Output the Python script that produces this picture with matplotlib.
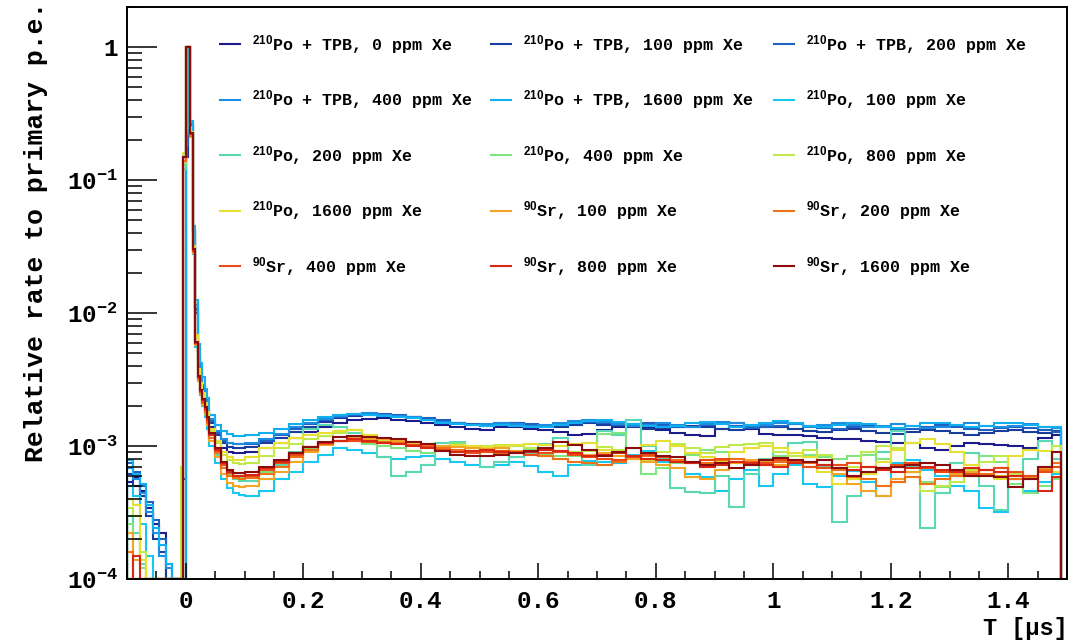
import numpy as np
import matplotlib
matplotlib.use("Agg")
import matplotlib.pyplot as plt
from matplotlib.lines import Line2D
from matplotlib.ticker import (FixedLocator, FixedFormatter, MultipleLocator,
                               LogLocator, NullFormatter, FuncFormatter)

plt.rcParams['font.family'] = ['Liberation Mono', 'DejaVu Sans']
plt.rcParams['font.weight'] = 'bold'
plt.rcParams['mathtext.fontset'] = 'custom'
plt.rcParams['mathtext.rm'] = 'Liberation Mono:bold'
plt.rcParams['mathtext.it'] = 'Liberation Mono:bold'
plt.rcParams['mathtext.bf'] = 'Liberation Mono:bold'
plt.rcParams['mathtext.sf'] = 'Liberation Sans'

# bin edges in us: pre-trigger, fine bins round the peak, then the tail
edges = np.concatenate([np.linspace(-0.1, -0.012, 9)[:-1],
                        np.linspace(-0.012, 0.04, 14)[:-1],
                        np.linspace(0.04, 0.1, 7)[:-1],
                        np.linspace(0.1, 1.475, 56), [1.49]])

# rates in units of 1e-4 (relative to primary p.e.)
tpb_0 = [5.4, 5.8, 4.6, 3.4, 2.6, 2.2, 0, 0,
         0, 0, 5.6, 1500, 10000, 2600, 400, 100, 45, 32, 25, 20, 17,
         14, 11, 9.6, 9.0, 8.9, 8.9,
         9.0, 9.6, 10.5, 11.5, 12.8, 14, 15, 15.8, 16, 16.2,
         15.8, 15.5, 15, 14.5, 14, 13.4, 13.3, 13.8, 14, 13.5,
         13.2, 12.8, 12.2, 12.3, 13.2, 14, 14.4, 14, 13.2, 12.5,
         12, 11.9, 13.5, 14.8, 13.5, 12.4, 12, 12.2, 11.8, 11.4,
         11.2, 11.3, 11, 10.8, 10.6, 10.5, 9.6, 9.4, 10, 10.6,
         10.4, 10.2, 10, 9.7, 11.5, 12]
tpb_100 = [6.2, 5.0, 4.2, 3.0, 2.0, 1.6, 0, 0,
           0, 0, 0, 1500, 10000, 2600, 410, 105, 48, 34, 27, 22, 18.5,
           15, 12, 10.5, 9.9, 9.7, 9.7,
           9.8, 10.5, 11.5, 12.8, 14, 15.2, 16.2, 16.8, 17, 17.2,
           16.8, 16.5, 16, 15.4, 14.8, 14.5, 14.2, 14.5, 14.8, 14.4,
           14.2, 14, 14.3, 14.8, 14.5, 14.2, 13.8, 13.5, 13.6, 14,
           14.2, 13.8, 13.5, 13.2, 13.6, 14, 13.8, 13.4, 13, 12.8,
           13.2, 13.4, 13.0, 12.6, 12.4, 12.8, 13.2, 13, 12.5, 12.2,
           12.6, 13, 13.3, 12.8, 12.6, 13]
tpb_200 = [7.4, 6.4, 5.0, 3.8, 2.8, 2.0, 1.3, 0,
           0, 0, 0, 1800, 10000, 2700, 420, 110, 50, 35, 28, 23, 19.5,
           15.5, 12.5, 11, 10.5, 10.3, 10.3,
           10.4, 11, 12, 13.4, 14.6, 15.8, 16.6, 17.2, 17.4, 17.3,
           17, 16.6, 16.2, 15.6, 15, 14.7, 14.5, 14.8, 15, 14.6,
           14.2, 14.5, 15, 15.2, 14.8, 14.4, 14.6, 15, 14.4, 13.8,
           14, 14.5, 14.8, 14.2, 13.6, 13.8, 14.2, 14.6, 14.2, 13.6,
           13.4, 13.8, 14.2, 13.8, 13.2, 13.5, 14, 14.4, 13.8, 13.4,
           13.2, 13.6, 14, 13.6, 13.2, 12.8]
tpb_400 = [6.8, 5.6, 4.4, 3.2, 2.2, 1.5, 1.2, 0,
           0, 0, 0, 2200, 10000, 2700, 430, 115, 52, 37, 29, 24, 20,
           16, 13, 11.2, 10.6, 10.3, 10.4,
           10.6, 11.3, 12.4, 13.8, 15, 16, 16.8, 17.4, 17.6, 17.2,
           16.8, 16.4, 15.8, 15.2, 14.8, 14.4, 14.6, 15, 14.6, 14.2,
           14.4, 14.8, 15.3, 15.6, 15.2, 14.6, 14.2, 14.5, 14.9, 14.4,
           14, 14.6, 15.2, 14.8, 14.2, 14.5, 15, 14.6, 14, 14.3,
           14.8, 14.3, 13.8, 14.2, 14.6, 14.2, 13.6, 14, 14.5, 14.8,
           14.2, 13.8, 14.2, 14.6, 14, 13.6]
tpb_1600 = [7.8, 6.2, 5.2, 3.6, 2.4, 1.8, 1.3, 0,
            0, 0, 0, 2400, 10000, 2800, 450, 125, 58, 42, 33, 27, 23,
            17, 14.5, 13, 12.3, 11.9, 11.9,
            12, 12.6, 13.5, 14.6, 15.6, 16.5, 17, 17.4, 17.2, 16.8,
            16.6, 16.2, 15.6, 15, 14.6, 14.4, 14.2, 14.5, 14.2, 13.8,
            14, 14.4, 14.8, 15.4, 15.8, 15.2, 14.6, 14.2, 13.8, 14.2,
            14.8, 15.2, 14.6, 14, 14.4, 14.9, 15.3, 14.8, 14.2, 13.8,
            14.4, 15, 14.6, 14, 13.6, 14.2, 14.8, 15, 14.4, 13.8,
            14.2, 14.8, 15, 14.5, 14, 13.8]
po_100 = [5.0, 4.2, 2.6, 1.5, 0, 0, 0, 0,
          0, 0, 1200, 10000, 10000, 2100, 280, 56, 31, 24, 20, 16.5, 13.5,
          10, 7.5, 5.6, 4.8, 4.4, 4.3,
          4.2, 4.6, 5.6, 6.4, 7.6, 8.6, 9.6, 9.4, 8.8, 8.2,
          8.0, 8.2, 8.4, 8.0, 7.6, 7.2, 6.9, 7.2, 7.6, 7.1,
          6.4, 6.0, 7.2, 7.7, 7.6, 7.4, 8.6, 9.2, 7.6, 6.8,
          6.2, 5.8, 4.6, 5.6, 6.6, 5.0, 6.2, 7.2, 5.2, 4.9,
          6.0, 6.5, 5.4, 4.2, 7.4, 7.8, 6.6, 5.9, 5.0, 4.6,
          3.4, 3.2, 5.6, 4.6, 5.4, 6.2]
po_200 = [3.0, 2.2, 1.3, 0, 0, 0, 0, 0,
          0, 0, 1200, 10000, 10000, 2150, 290, 58, 32, 25, 21, 17.5, 14.5,
          11, 8.5, 6.8, 6.0, 5.6, 5.5,
          5.5, 5.6, 7.2, 9.0, 13.5, 14.3, 14, 12.5, 10.8, 8.2,
          6.0, 6.4, 7.2, 10.5, 10.8, 9.6, 7.0, 7.6, 8.2, 8.8,
          10.4, 11.5, 9.0, 7.2, 13, 12, 15.6, 10, 8.0, 4.8,
          4.5, 4.4, 6.0, 3.5, 6.2, 8.0, 9.0, 10.6, 10.8, 7.0,
          2.7, 4.2, 6.2, 9.0, 13.0, 7.0, 2.4, 4.4, 7.4, 8.8,
          5.0, 3.3, 5.6, 8.0, 11, 8]
po_400 = [2.6, 2.0, 1.2, 0, 0, 0, 0, 0,
          0, 0, 1300, 10000, 10000, 2200, 295, 59, 33, 26, 21.5, 18, 15,
          11.5, 9, 7.2, 6.2, 5.8, 5.7,
          5.8, 6.4, 7.4, 8.4, 9.6, 10.4, 10.9, 11, 10.4, 10,
          9.6, 9.1, 8.8, 9.6, 10.6, 10, 9.4, 9.6, 10, 9.4,
          8.7, 8.4, 8.4, 8.6, 12.4, 12.6, 8.0, 6.2, 6.8, 7.4,
          8.6, 9.4, 9.0, 7.4, 7.6, 7.9, 8.4, 8.9, 8.6, 8.2,
          8.0, 8.4, 8.6, 8.0, 7.0, 6.4, 5.4, 4.9, 5.9, 6.6,
          8.4, 7.6, 5.2, 4.4, 5.0, 5.6]
po_800 = [3.4, 3.0, 1.6, 0, 0, 0, 0, 0,
          0, 7, 1600, 10000, 10000, 2300, 320, 66, 37, 29, 24.5, 20.5, 17.5,
          13, 10.5, 8.6, 7.8, 7.4, 7.3,
          7.5, 8.4, 9.6, 10.4, 11.2, 11.8, 12.6, 13.2, 12.0, 11.0,
          10.6, 10.2, 10.0, 9.6, 9.2, 9.6, 10.0, 10.2, 10.0, 9.6,
          9.4, 9.2, 9.0, 9.2, 9.8, 9.4, 8.2, 7.9, 9.0, 10.3,
          9.6, 8.8, 9.8, 10.2, 10.4, 10.6, 9.0, 8.4, 9.4, 8.6,
          7.2, 7.0, 9.0, 10.0, 9.6, 6.4, 4.6, 5.0, 5.4, 6.6,
          7.6, 8.4, 6.2, 5.9, 7.0, 10.0]
po_1600 = [4.0, 3.6, 1.4, 0, 0, 0, 0, 0,
           0, 0, 1500, 10000, 10000, 2300, 320, 68, 38, 30, 25, 21, 18,
           13.5, 11, 9, 8.2, 7.9, 7.9,
           8.2, 9.6, 10.6, 11.4, 12.0, 12.6, 12.9, 13.3, 12.2, 11.2,
           10.6, 10.4, 10.0, 9.8, 10.2, 10.0, 9.8, 10.0, 10.2, 10.4,
           10.2, 10.0, 10.4, 10.6, 9.4, 9.0, 9.6, 10.2, 10.9, 10.0,
           8.8, 8.2, 7.6, 9.0, 9.6, 10.0, 9.6, 8.8, 8.2, 6.4,
           5.2, 5.6, 6.2, 7.6, 9.4, 10.6, 11.2, 10.4, 9.0, 7.2,
           6.0, 5.6, 8.4, 9.4, 9.2, 6.4]
sr_100 = [2.2, 1.4, 0, 0, 0, 0, 0, 0,
          0, 0, 1400, 10000, 10000, 2100, 285, 57, 31, 24.5, 20.5, 17.5, 14.5,
          11, 8.2, 6.2, 5.3, 5.0, 4.9,
          5.0, 5.6, 6.4, 7.6, 9.0, 10.2, 11.0, 11.5, 11.3, 11.2,
          11.0, 10.8, 10.4, 10.0, 9.8, 9.6, 9.5, 9.6, 9.2, 9.0,
          9.3, 9.0, 8.8, 8.6, 8.9, 8.4, 8.0, 7.6, 7.2, 6.8,
          5.8, 5.6, 6.6, 7.4, 7.8, 7.6, 7.2, 7.4, 7.0, 7.2,
          6.2, 5.2, 4.6, 4.2, 5.6, 6.4, 6.8, 6.6, 6.2, 6.4,
          6.6, 6.0, 5.6, 5.8, 6.8, 7.4]
sr_200 = [1.6, 0, 0, 0, 0, 0, 0, 0,
          0, 0, 1400, 10000, 10000, 2150, 290, 58, 32, 25, 21, 18, 15,
          11.5, 8.8, 6.8, 6.0, 5.7, 5.6,
          5.7, 6.2, 7.0, 8.2, 9.4, 10.4, 11.0, 11.2, 11.0, 10.8,
          10.6, 10.2, 10.0, 9.6, 9.4, 9.2, 9.0, 8.8, 9.0, 8.6,
          8.4, 8.0, 7.6, 7.4, 7.2, 7.6, 8.2, 8.4, 8.2, 7.8,
          7.6, 7.4, 7.8, 8.0, 7.6, 7.2, 7.6, 7.8, 7.4, 7.2,
          6.6, 5.8, 5.6, 5.0, 5.4, 5.8, 5.2, 5.6, 6.0, 5.9,
          6.2, 5.8, 5.6, 6.0, 6.6, 7.4]
sr_400 = [0, 0, 0, 0, 0, 0, 0, 0,
          0, 0, 1500, 10000, 10000, 2200, 295, 59, 32.5, 25.5, 21.5, 18.5, 15.5,
          12, 9.2, 7.2, 6.3, 5.9, 5.9,
          6.0, 6.6, 7.4, 8.6, 9.8, 10.6, 11.0, 11.0, 10.8, 10.6,
          10.4, 10.2, 9.8, 9.4, 9.0, 8.8, 9.0, 9.2, 9.0, 8.6,
          8.8, 9.0, 8.6, 8.2, 8.0, 7.8, 8.2, 8.6, 8.2, 7.6,
          7.4, 7.8, 8.0, 7.6, 7.2, 7.4, 7.8, 7.6, 7.0, 6.8,
          7.2, 7.4, 7.0, 6.8, 7.2, 7.4, 6.8, 6.4, 6.6, 6.2,
          6.6, 6.8, 6.4, 6.0, 6.4, 7.0]
sr_800 = [0, 1.5, 0, 0, 0, 0, 0, 0,
          0, 0, 1500, 10000, 10000, 2200, 300, 60, 33, 26, 22, 19, 16,
          12.2, 9.4, 7.4, 6.4, 6.0, 6.0,
          6.1, 6.8, 7.6, 8.8, 9.8, 10.6, 11.0, 11.2, 11.0, 10.6,
          10.4, 10.0, 9.6, 9.2, 9.0, 9.2, 9.4, 9.0, 8.8, 9.0,
          9.4, 9.2, 8.8, 8.4, 8.6, 8.8, 8.4, 8.0, 7.8, 7.6,
          7.4, 7.0, 7.2, 7.6, 7.4, 7.2, 7.0, 7.4, 7.6, 7.2,
          6.8, 6.6, 7.0, 6.6, 6.4, 6.8, 7.0, 6.6, 6.4, 6.8,
          6.6, 6.4, 6.0, 5.6, 4.6, 5.8]
sr_1600 = [0, 0, 0, 0, 0, 0, 0, 0,
           0, 0, 1500, 10000, 10000, 2250, 305, 61, 33.5, 26.5, 22.5, 19.5, 16.5,
           12.5, 9.6, 7.6, 6.6, 6.3, 6.3,
           6.4, 7.0, 7.8, 8.8, 9.8, 10.8, 11.6, 11.9, 11.6, 11.4,
           11.2, 10.8, 10.4, 9.2, 8.6, 8.4, 8.4, 8.6, 8.8, 9.2,
           9.6, 10.8, 10.2, 9.4, 8.4, 9.0, 9.6, 8.8, 8.4, 8.2,
           7.6, 7.2, 7.4, 6.8, 7.2, 7.8, 8.1, 7.8, 7.6, 7.8,
           6.8, 5.9, 6.4, 6.8, 7.0, 7.2, 7.4, 7.2, 6.6, 5.9,
           6.0, 5.8, 4.9, 5.6, 7.0, 9.0]

series = [tpb_0, tpb_100, tpb_200, tpb_400, tpb_1600,
          po_100, po_200, po_400, po_800, po_1600,
          sr_100, sr_200, sr_400, sr_800, sr_1600]
labels = [r'$^{\mathsf{210}}$Po + TPB, 0 ppm Xe',
          r'$^{\mathsf{210}}$Po + TPB, 100 ppm Xe',
          r'$^{\mathsf{210}}$Po + TPB, 200 ppm Xe',
          r'$^{\mathsf{210}}$Po + TPB, 400 ppm Xe',
          r'$^{\mathsf{210}}$Po + TPB, 1600 ppm Xe',
          r'$^{\mathsf{210}}$Po, 100 ppm Xe',
          r'$^{\mathsf{210}}$Po, 200 ppm Xe',
          r'$^{\mathsf{210}}$Po, 400 ppm Xe',
          r'$^{\mathsf{210}}$Po, 800 ppm Xe',
          r'$^{\mathsf{210}}$Po, 1600 ppm Xe',
          r'$^{\mathsf{90}}$Sr, 100 ppm Xe',
          r'$^{\mathsf{90}}$Sr, 200 ppm Xe',
          r'$^{\mathsf{90}}$Sr, 400 ppm Xe',
          r'$^{\mathsf{90}}$Sr, 800 ppm Xe',
          r'$^{\mathsf{90}}$Sr, 1600 ppm Xe']
colors = ['#1c1c8c', '#1a3c9c', '#2060c0', '#1e8ce0', '#10b0f0',
          '#18c8f0', '#5ad8b4', '#80e480', '#c0ea4c', '#e6e033',
          '#f2a628', '#f07218', '#ea4c18', '#d82814', '#8c0c0c']

W, H = 1074, 642
fig = plt.figure(figsize=(W / 100, H / 100), dpi=100)
ax = fig.add_axes([127 / W, 1 - 579 / H, 940 / W, 572 / H])

ymin = 1e-4
for vals, col in zip(series, colors):
    y = np.maximum(np.array(vals) * 1e-4, ymin)
    ax.stairs(y, edges, baseline=ymin, color=col, lw=1.5)

ax.set_yscale('log')
ax.set_xlim(-0.1, 1.5)
ax.set_ylim(ymin, 2)

ax.yaxis.set_major_locator(FixedLocator([1e-4, 1e-3, 1e-2, 1e-1, 1]))
ax.yaxis.set_major_formatter(FixedFormatter([r'$10^{-4}$', r'$10^{-3}$', r'$10^{-2}$',
                                             r'$10^{-1}$', '1']))
ax.yaxis.set_minor_locator(LogLocator(base=10, subs=np.arange(2, 10) * 1.0, numticks=20))
ax.yaxis.set_minor_formatter(NullFormatter())
ax.xaxis.set_major_locator(MultipleLocator(0.2))
ax.xaxis.set_major_formatter(FuncFormatter(lambda v, p: f'{v:.1f}'.rstrip('0').rstrip('.')))
ax.xaxis.set_minor_locator(MultipleLocator(0.05))

ax.tick_params(which='both', direction='in', top=False, right=False, width=1.1)
ax.tick_params(axis='y', which='major', length=21.6, pad=6.5, labelsize=17.5)
ax.tick_params(axis='y', which='minor', length=11)
ax.tick_params(axis='x', which='major', length=11.5, pad=8, labelsize=17.5)
ax.tick_params(axis='x', which='minor', length=5.8)
for sp in ax.spines.values():
    sp.set_linewidth(1.4)

# legend, three columns
col_x = [220, 491, 774]
row_y = [44, 99.5, 155, 210.5, 266]
for i, (lab, col) in enumerate(zip(labels, colors)):
    r, c = divmod(i, 3)
    x0, y0 = col_x[c], row_y[r]
    fig.add_artist(Line2D([x0 / W, (x0 + 20) / W], [1 - y0 / H] * 2, color=col, lw=1.5))
    fig.text((x0 + 32) / W, 1 - (y0 + 6) / H, lab, fontsize=12, ha='left', va='baseline')

fig.text(36 / W, 1 - 2 / H, 'Relative rate to primary p.e.', rotation=90,
         ha='center', va='top', fontsize=19)
fig.text(1068 / W, 1 - 635 / H, 'T [μs]', ha='right', va='baseline', fontsize=17)

fig.savefig('out.png', dpi=100)
